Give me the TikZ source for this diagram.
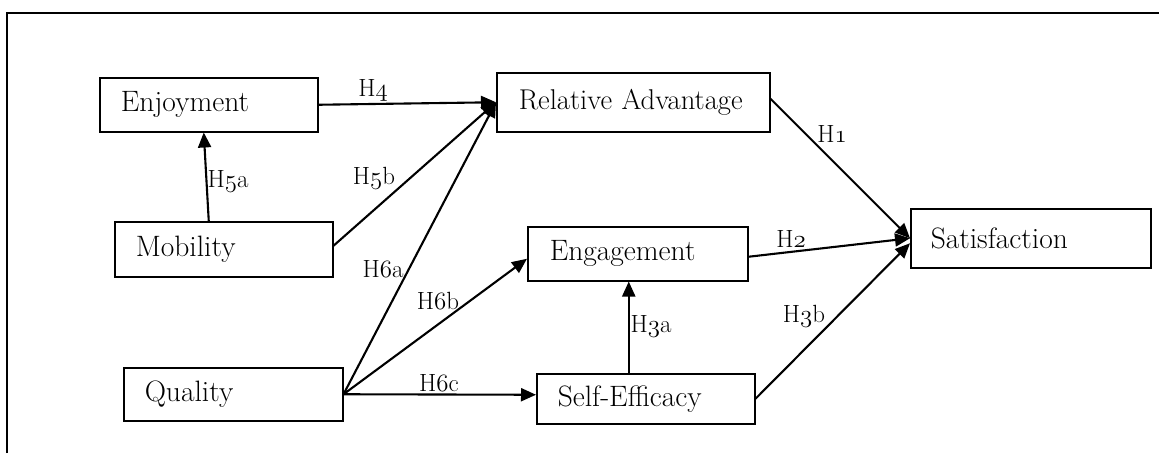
\documentclass[tikz,border=0pt]{standalone}
\usepackage{fontspec}
\setmainfont{Latin Modern Roman}
\usetikzlibrary{arrows.meta,calc}
\newcommand\osn[1]{{\usefont{OML}{cmm}{m}{it}#1}}
\begin{document}
\begin{tikzpicture}[x=1pt,y=-1pt,
  box/.style={draw,line width=1.5pt,anchor=north west,align=left,font=\fontsize{29.5}{33}\selectfont,inner ysep=0pt},
  conn/.style={line width=2.1pt,-{Triangle[length=15pt,width=13pt]}},
  lab/.style={font=\fontsize{24.88}{28}\selectfont,inner sep=1pt}]
\useasboundingbox (0,0) rectangle (1159,453);
\draw[line width=1.5pt] (7,453) -- (7,13) -- (1159,13);
% boxes: width = text width + 2*xsep
\node[box,inner xsep=21pt,text width=176pt,minimum height=54pt] (enj) at (99,77) {Enjoyment};
\node[box,inner xsep=21pt,text width=176pt,minimum height=55pt] (mob) at (114,221) {Mobility};
\node[box,inner xsep=21pt,text width=177pt,minimum height=53pt] (qua) at (123,367) {Quality};
\node[box,inner xsep=22pt,text width=229pt,minimum height=59pt,font=\fontsize{28.6}{32}\selectfont] (rel) at (496,72) {\mbox{Relative Advantage}};
\node[box,inner xsep=22pt,text width=176pt,minimum height=54pt] (eng) at (527,226) {Engagement};
\node[box,inner xsep=21pt,text width=176pt,minimum height=50pt] (se) at (536,373) {Self-Efficacy};
\node[box,inner xsep=20pt,text width=200pt,minimum height=59pt] (sat) at (910,208) {Satisfaction};
% connectors
\draw[conn] (enj.east) -- (rel.west);
\draw[conn] ([yshift=3.5pt]mob.east) -- (rel.west);
\draw[conn] (qua.east) -- (rel.west);
\draw[conn] (qua.east) -- ([yshift=-5pt]eng.west);
\draw[conn] (qua.east) -- ([yshift=4pt]se.west);
\draw[conn] ([xshift=-15pt]mob.north) -- ([xshift=-5pt]enj.south);
\draw[conn] ([xshift=-17pt]se.north) -- ([xshift=-9pt]eng.south);
\draw[conn] ([yshift=3.5pt]rel.east) -- (sat.west);
\draw[conn] ([yshift=-3pt]eng.east) -- (sat.west);
\draw[conn] (se.east) -- ([yshift=-5pt]sat.west);
% labels
\node[lab] (l4) at (373,90) {H\osn{4}};
\node[lab] (l5a) at (228,181) {H\osn{5}a};
\node[lab] (l5b) at (374,178) {H\osn{5}b};
\node[lab] (l6a) at (383,269) {H\osn{6}a};
\node[lab] (l6b) at (438,301) {H\osn{6}b};
\node[lab] (l6c) at (439,383) {H\osn{6}c};
\node[lab] (l1) at (832,134) {H\osn{1}};
\node[lab] (l2) at (791,239) {H\osn{2}};
\node[lab] (l3a) at (651,326) {H\osn{3}a};
\node[lab] (l3b) at (804,316) {H\osn{3}b};
\end{tikzpicture}
\end{document}
